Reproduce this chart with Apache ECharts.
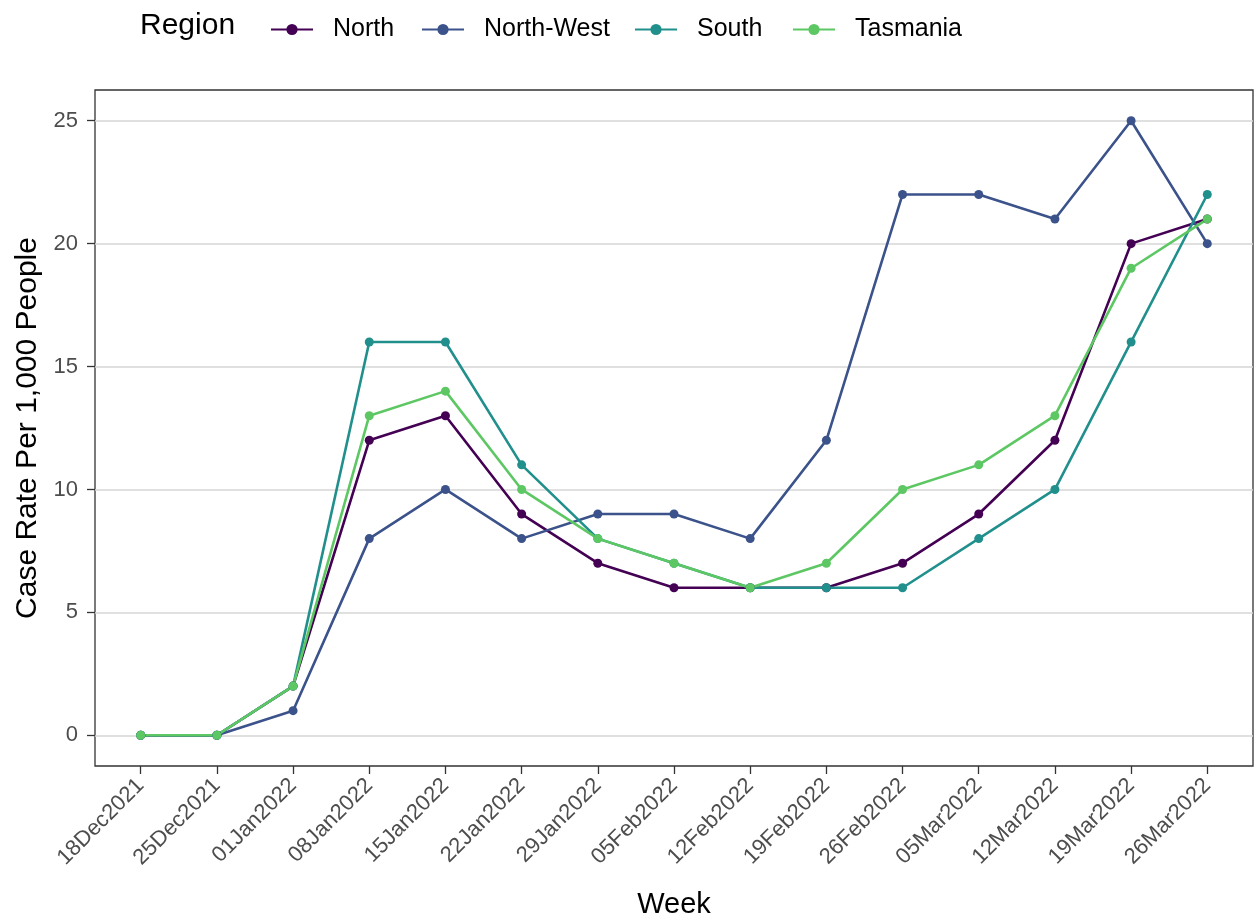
<!DOCTYPE html>
<html>
<head>
<meta charset="utf-8">
<script src="https://cdn.jsdelivr.net/npm/echarts@6/dist/echarts.min.js"></script>
<style>
html,body{margin:0;padding:0;background:#fff;}
#chart{width:1256px;height:924px;}
</style>
</head>
<body>
<div id="chart"></div>
<script>
const weeks = ['18Dec2021','25Dec2021','01Jan2022','08Jan2022','15Jan2022','22Jan2022','29Jan2022','05Feb2022','12Feb2022','19Feb2022','26Feb2022','05Mar2022','12Mar2022','19Mar2022','26Mar2022'];
const north     = [0,0,2,12,13,9,7,6,6,6,7,9,12,20,21];
const northWest = [0,0,1,8,10,8,9,9,8,12,22,22,21,25,20];
const south     = [0,0,2,16,16,11,8,7,6,6,6,8,10,16,22];
const tasmania  = [0,0,2,13,14,10,8,7,6,7,10,11,13,19,21];
const yTicks = [0,5,10,15,20,25];
const seriesNames = ['North','North-West','South','Tasmania'];
const seriesValues = [north, northWest, south, tasmania];
const colors = ['#440154','#3B528B','#21908C','#5DC863'];

const chart = echarts.init(document.getElementById('chart'), null, {renderer:'canvas'});
const FONT = 'Liberation Sans, Arial, sans-serif';
const xIdx = weeks.map((_, i) => i);

const legendLefts = [265, 416, 629, 787];

const option = {
  backgroundColor: '#fff',
  animation: false,
  color: colors,
  textStyle: {fontFamily: FONT},
  graphic: [{
    type: 'text', left: 140, top: 11,
    style: {text: 'Region', fontSize: 30, fontFamily: FONT, fill: '#000'}
  }],
  legend: seriesNames.map((n, i) => ({
    data: [n], left: legendLefts[i], top: 12,
    itemWidth: 42, itemHeight: 14,
    textStyle: {fontSize: 25, color: '#000', fontFamily: FONT, padding: [0,0,0,15]}
  })),
  grid: {left: 95, right: 3, top: 90, bottom: 152, show: true, borderColor: '#333', borderWidth: 1.3, containLabel: false},
  xAxis: {
    type: 'value', min: -0.6, max: 14.6,
    name: 'Week', nameLocation: 'middle', nameGap: 124,
    nameTextStyle: {fontSize: 29, color: '#000', fontFamily: FONT},
    axisLine: {show: false, onZero: false},
    axisTick: {show: true, length: 8, lineStyle: {color: '#333', width: 1.3}, customValues: xIdx},
    axisLabel: {rotate: 45, fontSize: 22, color: '#4d4d4d', fontFamily: FONT, margin: 16,
      customValues: xIdx, formatter: v => weeks[Math.round(v)] || ''},
    splitLine: {show: false}
  },
  yAxis: {
    type: 'value', min: -1.25, max: 26.25,
    name: 'Case Rate Per 1,000 People', nameLocation: 'middle', nameGap: 52,
    nameTextStyle: {fontSize: 30, color: '#000', fontFamily: FONT},
    axisLine: {show: false, onZero: false},
    axisTick: {show: true, length: 8, lineStyle: {color: '#333', width: 1.3}, customValues: yTicks},
    axisLabel: {fontSize: 22, color: '#4d4d4d', fontFamily: FONT, margin: 17, customValues: yTicks},
    splitLine: {show: true, lineStyle: {color: '#d6d6d6', width: 1.6}}
  },
  series: seriesNames.map((n, i) => ({
    name: n, type: 'line',
    data: seriesValues[i].map((v, j) => [j, v]),
    symbol: 'circle', symbolSize: 9,
    lineStyle: {width: 2.6, color: colors[i]},
    itemStyle: {color: colors[i]}
  }))
};
chart.setOption(option);
</script>
</body>
</html>
